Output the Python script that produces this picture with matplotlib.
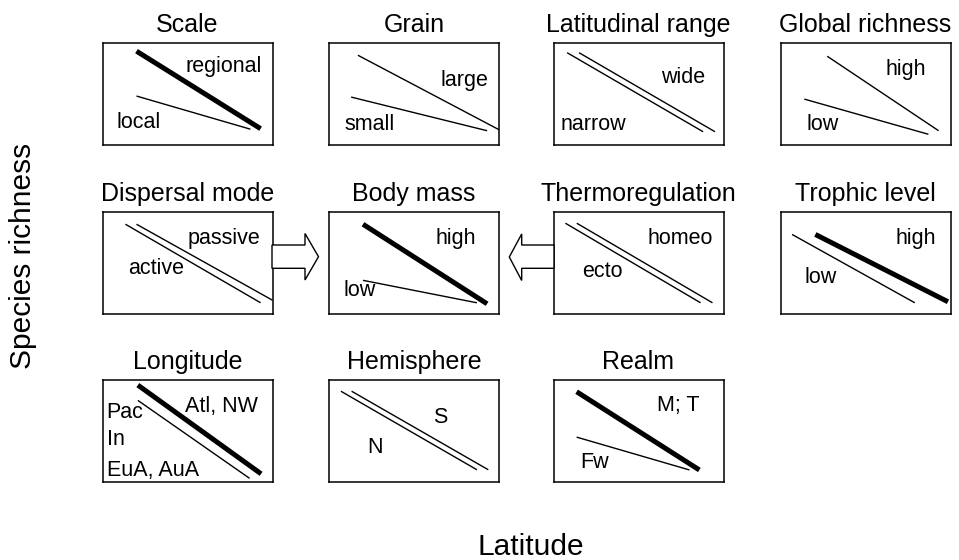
import matplotlib
matplotlib.use("Agg")
import matplotlib.pyplot as plt
from matplotlib.patches import Polygon

plt.rcParams['font.family'] = ['Liberation Sans', 'DejaVu Sans']

W, H = 959, 560
DPI = 100

# ---- panel content ----
titles = ["Scale", "Grain", "Latitudinal range", "Global richness",
          "Dispersal mode", "Body mass", "Thermoregulation", "Trophic level",
          "Longitude", "Hemisphere", "Realm"]
grid_row = [0, 0, 0, 0, 1, 1, 1, 1, 2, 2, 2]
grid_col = [0, 1, 2, 3, 0, 1, 2, 3, 0, 1, 2]

# each line: (x_start, y_start, x_end, y_end, weight) ; weight 'thick' / 'thin'
panel_lines = [
    [(0.20, 0.92, 0.93, 0.16, 'thick'), (0.20, 0.48, 0.87, 0.155, 'thin')],
    [(0.17, 0.88, 1.00, 0.15, 'thin'), (0.13, 0.47, 0.93, 0.14, 'thin')],
    [(0.08, 0.905, 0.88, 0.13, 'thin'), (0.15, 0.905, 0.95, 0.13, 'thin')],
    [(0.275, 0.87, 0.93, 0.14, 'thin'), (0.14, 0.45, 0.87, 0.105, 'thin')],
    [(0.135, 0.88, 0.93, 0.11, 'thin'), (0.20, 0.88, 1.00, 0.135, 'thin')],
    [(0.20, 0.88, 0.93, 0.10, 'thick'), (0.20, 0.33, 0.87, 0.11, 'thin')],
    [(0.07, 0.89, 0.865, 0.11, 'thin'), (0.137, 0.89, 0.935, 0.11, 'thin')],
    [(0.068, 0.78, 0.79, 0.11, 'thin'), (0.205, 0.78, 0.985, 0.12, 'thick')],
    [(0.208, 0.95, 0.933, 0.08, 'thick'), (0.208, 0.80, 0.865, 0.036, 'thin')],
    [(0.07, 0.89, 0.87, 0.12, 'thin'), (0.133, 0.89, 0.937, 0.12, 'thin')],
    [(0.136, 0.885, 0.858, 0.118, 'thick'), (0.136, 0.44, 0.80, 0.118, 'thin')],
]

# each label: (text, x, y_baseline, ha)
panel_labels = [
    [("regional", 0.715, 0.72, 'center'), ("local", 0.215, 0.17, 'center')],
    [("large", 0.795, 0.58, 'center'), ("small", 0.237, 0.15, 'center')],
    [("wide", 0.763, 0.61, 'center'), ("narrow", 0.233, 0.147, 'center')],
    [("high", 0.737, 0.685, 'center'), ("low", 0.25, 0.147, 'center')],
    [("passive", 0.712, 0.683, 'center'), ("active", 0.318, 0.393, 'center')],
    [("high", 0.746, 0.69, 'center'), ("low", 0.18, 0.178, 'center')],
    [("homeo", 0.747, 0.69, 'center'), ("ecto", 0.288, 0.366, 'center')],
    [("high", 0.793, 0.69, 'center'), ("low", 0.238, 0.30, 'center')],
    [("Pac", 0.025, 0.624, 'left'), ("In", 0.025, 0.363, 'left'),
     ("EuA, AuA", 0.025, 0.059, 'left'), ("Atl, NW", 0.698, 0.689, 'center')],
    [("S", 0.653, 0.581, 'center'), ("N", 0.271, 0.281, 'center')],
    [("M; T", 0.731, 0.699, 'center'), ("Fw", 0.244, 0.134, 'center')],
]

y_label = "Species richness"
x_label = "Latitude"

# ---- layout (pixels) ----
col_left = [102.5, 329, 553.5, 780.5]
row_top = [43, 212, 380]
box_w, box_h = 170, 102
line_widths = {'thick': 3.6, 'thin': 1.0}

fig = plt.figure(figsize=(W / DPI, H / DPI), dpi=DPI)
fig.patch.set_facecolor('white')

for i, title in enumerate(titles):
    l = col_left[grid_col[i]]
    t = row_top[grid_row[i]]
    ax = fig.add_axes([l / W, 1 - (t + box_h) / H, box_w / W, box_h / H])
    ax.set_xlim(0, 1)
    ax.set_ylim(0, 1)
    ax.set_xticks([])
    ax.set_yticks([])
    for s in ax.spines.values():
        s.set_linewidth(1.1)
        s.set_color('black')
    ax.set_title(title, fontsize=18, pad=8)
    for (x0, y0, x1, y1, wt) in panel_lines[i]:
        ax.plot([x0, x1], [y0, y1], color='black', lw=line_widths[wt],
                solid_capstyle='butt', clip_on=False)
    for (txt, x, y, ha) in panel_labels[i]:
        ax.text(x, y, txt, fontsize=15.5, ha=ha, va='baseline')

# hollow arrows towards body mass panel
def px(pts):
    return [(x / W, 1 - y / H) for x, y in pts]

right_arrow = [(272, 245), (305, 245), (305, 233.5), (318.5, 256.7),
               (305, 280), (305, 268.3), (272, 268.3)]
left_arrow = [(554, 245), (521.7, 245), (521.7, 234), (509.3, 257),
              (521.7, 280.5), (521.7, 268.3), (554, 268.3)]
for pts in (right_arrow, left_arrow):
    fig.patches.append(Polygon(px(pts), closed=True, facecolor='white',
                               edgecolor='black', lw=1.0,
                               transform=fig.transFigure, figure=fig))

fig.text(23 / W, 1 - 256 / H, y_label, rotation=90, fontsize=21.5,
         ha='center', va='center')
fig.text(531 / W, 1 - 555 / H, x_label, fontsize=21.5, ha='center',
         va='baseline')

fig.savefig("out.png", dpi=DPI, facecolor='white')
